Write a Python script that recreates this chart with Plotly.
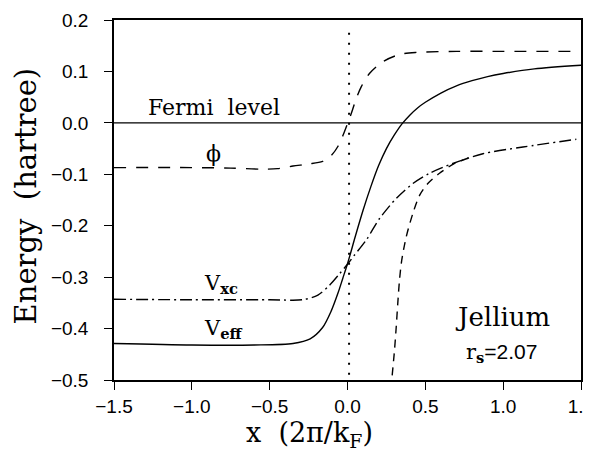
import plotly.graph_objects as go

# ---- data ----
x_veff = [-1.5, -1.0, -0.6, -0.35, -0.24, -0.16, -0.105, -0.06, -0.03, 0.0, 0.05, 0.1,
          0.15, 0.2, 0.25, 0.3, 0.35, 0.4, 0.45, 0.5, 0.6, 0.7, 0.8, 0.9, 1.0, 1.2, 1.5]
veff = [-0.429, -0.432, -0.432, -0.429, -0.420, -0.398, -0.366, -0.330, -0.302, -0.274,
        -0.221, -0.170, -0.124, -0.083, -0.050, -0.024, -0.002, 0.015, 0.029, 0.040,
        0.058, 0.072, 0.082, 0.090, 0.096, 0.105, 0.112]

x_vxc = [-1.5, -1.0, -0.5, -0.29, -0.19, -0.116, -0.05, 0.0, 0.045, 0.12, 0.206, 0.313,
         0.42, 0.527, 0.677, 0.87, 1.127, 1.47]
vxc = [-0.343, -0.344, -0.344, -0.344, -0.335, -0.316, -0.293, -0.275, -0.257, -0.228,
       -0.186, -0.147, -0.118, -0.098, -0.079, -0.060, -0.047, -0.032]

x_phi = [-1.5, -1.0, -0.75, -0.55, -0.45, -0.35, -0.25, -0.16, -0.1, -0.06, -0.03, 0.008,
         0.024, 0.056, 0.088, 0.141, 0.227, 0.334, 0.44, 0.7, 1.0, 1.45]
phi = [-0.087, -0.087, -0.088, -0.090, -0.089, -0.084, -0.080, -0.075, -0.062, -0.045,
       -0.025, 0.005, 0.018, 0.047, 0.070, 0.096, 0.119, 0.133, 0.137, 0.139, 0.139, 0.139]

x_img = [0.287, 0.302, 0.313, 0.323, 0.334, 0.348, 0.377, 0.42, 0.463, 0.516, 0.591, 0.688, 0.78]
img = [-0.491, -0.442, -0.397, -0.351, -0.306, -0.268, -0.222, -0.176, -0.141, -0.118,
       -0.098, -0.079, -0.068]

x_fermi = [-1.5, 1.5]
fermi = [0.0, 0.0]

x_surface = [0.01, 0.01]
y_surface = [-0.49, 0.19]

x_ticks = [-1.5, -1.0, -0.5, 0.0, 0.5, 1.0, 1.5]
y_ticks = [0.2, 0.1, 0.0, -0.1, -0.2, -0.3, -0.4, -0.5]

LW = 1.4
fig = go.Figure()
fig.add_trace(go.Scatter(x=x_fermi, y=fermi, mode="lines", line=dict(color="black", width=LW)))
fig.add_trace(go.Scatter(x=x_surface, y=y_surface, mode="lines",
                         line=dict(color="black", width=2, dash="2px,8px")))
fig.add_trace(go.Scatter(x=x_veff, y=veff, mode="lines", line_shape="spline",
                         line=dict(color="black", width=LW, smoothing=0.8)))
fig.add_trace(go.Scatter(x=x_vxc, y=vxc, mode="lines", line_shape="spline",
                         line=dict(color="black", width=LW, smoothing=0.8, dash="12px,4px,2px,4px")))
fig.add_trace(go.Scatter(x=x_phi, y=phi, mode="lines", line_shape="spline",
                         line=dict(color="black", width=LW, smoothing=0.8, dash="12px,10px")))
fig.add_trace(go.Scatter(x=x_img, y=img, mode="lines", line_shape="spline",
                         line=dict(color="black", width=LW, smoothing=0.8, dash="8px,6px")))

serif = "DejaVu Serif"
sans = "Liberation Sans"
ann = []
def add(text, x, y, size, xanchor="center", family=serif):
    ann.append(dict(text=text, x=x, y=y, xref="x", yref="y", showarrow=False,
                    xanchor=xanchor, yanchor="middle",
                    font=dict(family=family, size=size, color="black")))

add("Fermi  level", -0.86, 0.029, 22)
add("ϕ", -0.86, -0.059, 22)
add("V<sub><b>xc</b></sub>", -0.935, -0.313, 21, xanchor="left")
add("V<sub><b>eff</b></sub>", -0.935, -0.400, 21, xanchor="left")
add("Jellium", 0.996, -0.378, 26)
add("r<sub><b>s</b></sub><span style=\"font-family:'Liberation Sans'\">=2.07</span>",
    0.75, -0.448, 21, xanchor="left")

# axis titles
ann.append(dict(text="x  (2π/k<sub>F</sub>)", x=0.418, y=0, xref="paper", yref="paper",
                xanchor="center", yanchor="middle", yshift=-54, showarrow=False,
                font=dict(family=serif, size=27, color="black")))
ann.append(dict(text="Energy  (hartree)", x=0, y=0.51, xref="paper", yref="paper",
                xanchor="center", yanchor="middle", xshift=-88, textangle=-90, showarrow=False,
                font=dict(family=serif, size=29, color="black")))

# the page body adds an 8px offset; size the figure so the plot box lands where the reference has it
fig.update_layout(
    width=583, height=441,
    margin=dict(l=106, r=10, t=12, b=69),
    paper_bgcolor="white", plot_bgcolor="white",
    showlegend=False,
    annotations=ann,
    font=dict(family=sans, size=19, color="black"),
)
axis_common = dict(showgrid=False, zeroline=False, showline=True, mirror=True,
                   linecolor="black", linewidth=1.5, ticks="outside", ticklen=8,
                   tickwidth=1.3, tickcolor="black", tickformat=".1f", automargin=False,
                   ticklabeloverflow="allow",
                   tickfont=dict(family=sans, size=19, color="black"))
fig.update_xaxes(range=[-1.5, 1.5], tickvals=x_ticks, ticklabelstandoff=0, **axis_common)
fig.update_yaxes(range=[-0.5, 0.2], tickvals=y_ticks, ticklabelstandoff=12, **axis_common)

fig.write_html("out.html")
